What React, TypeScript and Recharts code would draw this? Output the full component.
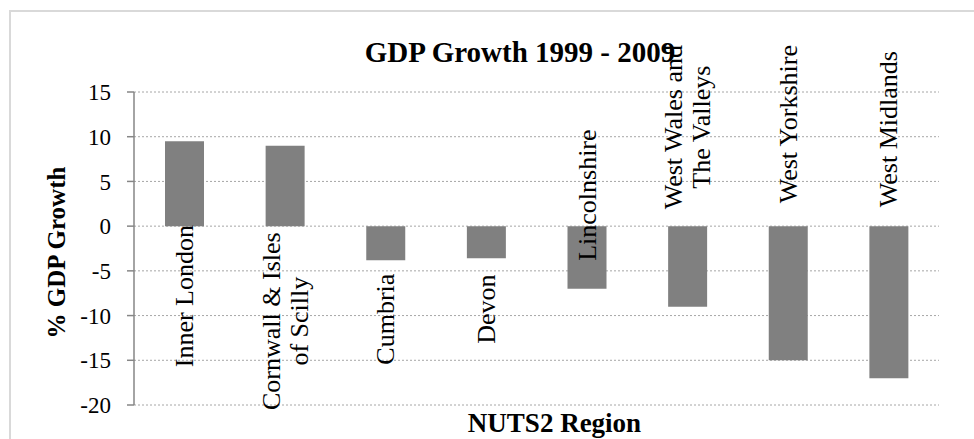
import { Bar, BarChart, CartesianGrid, Label, LabelList, XAxis, YAxis } from "recharts";

const regions = [
  "Inner London",
  "Cornwall & Isles of Scilly",
  "Cumbria",
  "Devon",
  "Lincolnshire",
  "West Wales and The Valleys",
  "West Yorkshire",
  "West Midlands",
];
const growth = [9.5, 9.0, -3.8, -3.6, -7.0, -9.0, -15.0, -17.0];
const yTicks = [-20, -15, -10, -5, 0, 5, 10, 15];

const chartTitle = "GDP Growth 1999 - 2009";
const xTitle = "NUTS2 Region";
const yTitle = "% GDP Growth";

const WIDTH = 974;
const HEIGHT = 439;
const MARGIN = { top: 92, right: 35, bottom: 0, left: 0 };
const Y_AXIS_WIDTH = 134;
const X_AXIS_HEIGHT = 34;
const Y_DOMAIN: [number, number] = [-20, 15];
const FONT = '"Liberation Serif", "DejaVu Serif", serif';
const AXIS_GREY = "#868686";

// the original (Excel) left each rotated region label at its own spot: px from the zero line to the label centre
const LABEL_SHIFT = [70, 95, 93, 83, -31, -99, -102, -97];

const data = regions.map((region, i) => ({ region, growth: growth[i] }));

function wrap(text: string, max: number): string[] {
  const lines: string[] = [];
  let line = "";
  for (const word of text.split(" ")) {
    const next = line ? `${line} ${word}` : word;
    if (next.length > max && line) {
      lines.push(line);
      line = word;
    } else {
      line = next;
    }
  }
  if (line) lines.push(line);
  return lines;
}

function zeroLineY(): number {
  const top = MARGIN.top;
  const bottom = HEIGHT - MARGIN.bottom - X_AXIS_HEIGHT;
  return top + ((Y_DOMAIN[1] - 0) / (Y_DOMAIN[1] - Y_DOMAIN[0])) * (bottom - top);
}

function RegionLabel(props: any) {
  const { x, width, value, index } = props;
  const cx = Number(x) + Number(width) / 2;
  const cy = zeroLineY() + (LABEL_SHIFT[index] ?? 0);
  const lines = wrap(String(value), 16);
  const lineHeight = 28;
  return (
    <text
      transform={`translate(${cx},${cy}) rotate(-90)`}
      textAnchor="middle"
      fontFamily={FONT}
      fontSize={26}
      fill="#000"
    >
      {lines.map((line, i) => (
        <tspan key={i} x={0} y={(i - (lines.length - 1) / 2) * lineHeight} dy="0.33em">
          {line}
        </tspan>
      ))}
    </text>
  );
}

export default function App() {
  return (
    <div
      style={{
        position: "absolute",
        left: 0,
        top: 0,
        width: WIDTH,
        height: HEIGHT,
        overflow: "hidden",
        background: "#fff",
      }}
    >
      <div
        style={{
          position: "absolute",
          left: 9,
          top: 10,
          width: 1000,
          height: 500,
          border: "2px solid #d9d9d9",
          boxSizing: "border-box",
        }}
      />
      <div style={{ position: "absolute", left: 0, top: 0 }}>
        <BarChart width={WIDTH} height={HEIGHT} data={data} margin={MARGIN} barSize={39}>
          <CartesianGrid vertical={false} stroke="#a6a6a6" strokeDasharray="2 2" />
          <XAxis
            dataKey="region"
            height={X_AXIS_HEIGHT}
            axisLine={false}
            tickLine={false}
            tick={false}
          >
            <Label
              content={({ viewBox }: any) => (
                <text
                  x={(viewBox?.x ?? 134) + (viewBox?.width ?? 805) / 2 + 18}
                  y={(viewBox?.y ?? 405) + 27}
                  textAnchor="middle"
                  fontFamily={FONT}
                  fontSize={27}
                  fontWeight="bold"
                  fill="#000"
                >
                  {xTitle}
                </text>
              )}
            />
          </XAxis>
          <YAxis
            width={Y_AXIS_WIDTH}
            domain={Y_DOMAIN}
            ticks={yTicks}
            interval={0}
            tickSize={7}
            tickMargin={16}
            axisLine={{ stroke: AXIS_GREY, strokeWidth: 1.5 }}
            tickLine={{ stroke: AXIS_GREY, strokeWidth: 1.5 }}
            tick={{ fill: "#000", fontSize: 23, fontFamily: FONT }}
          >
            <Label
              content={({ viewBox }: any) => {
                const cy = (viewBox?.y ?? 92) + (viewBox?.height ?? 313) / 2 + 4;
                return (
                  <text
                    transform={`translate(65,${cy}) rotate(-90)`}
                    textAnchor="middle"
                    fontFamily={FONT}
                    fontSize={25}
                    fontWeight="bold"
                    fill="#000"
                  >
                    {yTitle}
                  </text>
                );
              }}
            />
          </YAxis>
          <Bar dataKey="growth" fill="#808080" isAnimationActive={false}>
            <LabelList dataKey="region" content={RegionLabel} />
          </Bar>
          <text
            x={520}
            y={62}
            textAnchor="middle"
            fontFamily={FONT}
            fontSize={29}
            fontWeight="bold"
            fill="#000"
          >
            {chartTitle}
          </text>
        </BarChart>
      </div>
    </div>
  );
}
